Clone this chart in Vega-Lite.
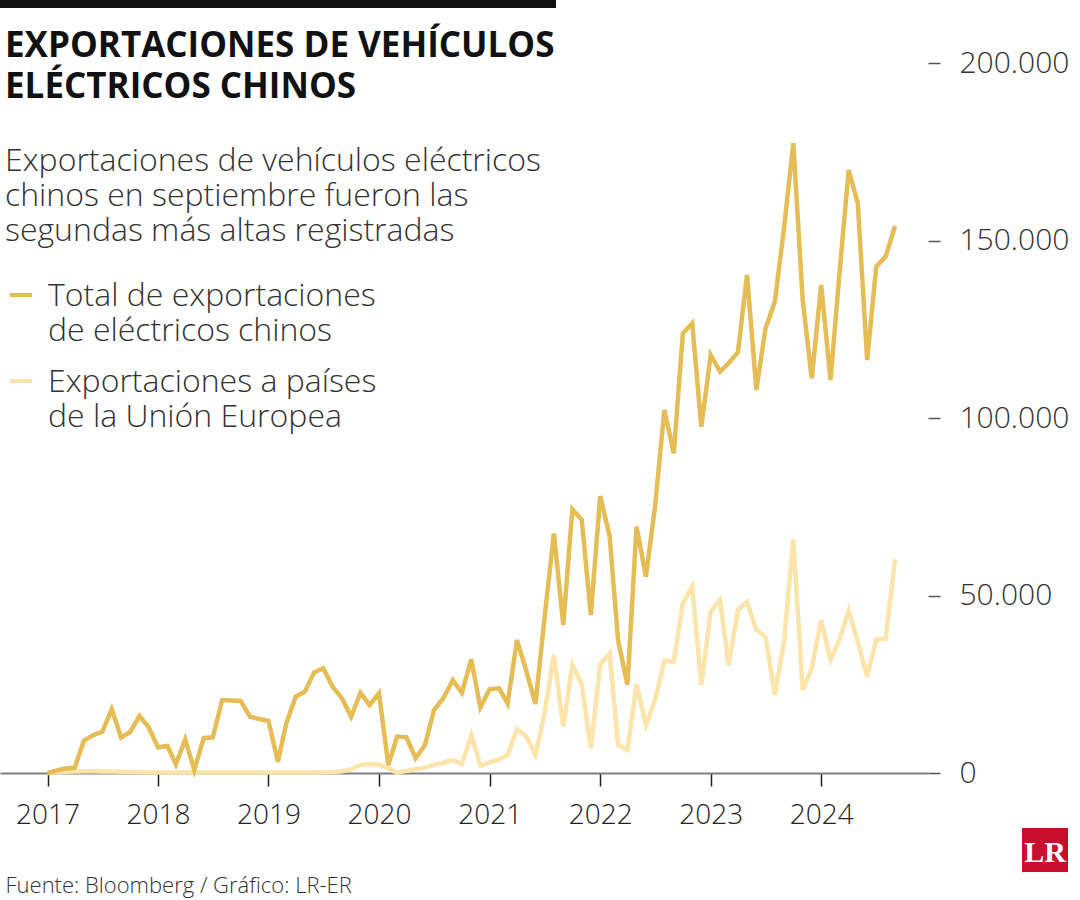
{
  "$schema": "https://vega.github.io/schema/vega-lite/v6.json",
  "padding": {"left": 0, "top": 0, "right": 0, "bottom": 10},
  "autosize": {"type": "pad"},
  "background": "white",
  "bounds": "flush",
  "spacing": 55,
  "config": {
    "font": "Open Sans",
    "view": {"stroke": null},
    "concat": {"spacing": 0}
  },
  "vconcat": [
    {
      "width": 556,
      "height": 8,
      "data": {"values": []},
      "mark": "point",
      "view": {"fill": "#111111", "stroke": null}
    },
    {
      "width": 928,
      "height": 710,
      "title": {
        "text": ["EXPORTACIONES DE VEHÍCULOS", "ELÉCTRICOS CHINOS"],
        "subtitle": ["Exportaciones de vehículos eléctricos", "chinos en septiembre fueron las", "segundas más altas registradas"],
        "anchor": "start",
        "frame": "group",
        "orient": "top",
        "offset": -199,
        "dx": 5,
        "font": "Open Sans",
        "fontSize": 35,
        "fontWeight": "bold",
        "lineHeight": 41,
        "color": "#111111",
        "subtitleFont": "Open Sans",
        "subtitleFontSize": 32,
        "subtitleFontWeight": 300,
        "subtitleLineHeight": 35,
        "subtitleColor": "#333333",
        "subtitlePadding": 41
      },
      "data": {
        "values": [
          {"fecha": "2017-01-01", "total": 0, "ue": 0},
          {"fecha": "2017-02-01", "total": 700, "ue": 200},
          {"fecha": "2017-03-01", "total": 1300, "ue": 350},
          {"fecha": "2017-04-01", "total": 1500, "ue": 450},
          {"fecha": "2017-05-01", "total": 9100, "ue": 500},
          {"fecha": "2017-06-01", "total": 10700, "ue": 500},
          {"fecha": "2017-07-01", "total": 11600, "ue": 450},
          {"fecha": "2017-08-01", "total": 18000, "ue": 400},
          {"fecha": "2017-09-01", "total": 10050, "ue": 350},
          {"fecha": "2017-10-01", "total": 11550, "ue": 300},
          {"fecha": "2017-11-01", "total": 16050, "ue": 250},
          {"fecha": "2017-12-01", "total": 12900, "ue": 200},
          {"fecha": "2018-01-01", "total": 7250, "ue": 150},
          {"fecha": "2018-02-01", "total": 7600, "ue": 150},
          {"fecha": "2018-03-01", "total": 2450, "ue": 150},
          {"fecha": "2018-04-01", "total": 9500, "ue": 150},
          {"fecha": "2018-05-01", "total": 850, "ue": 150},
          {"fecha": "2018-06-01", "total": 9800, "ue": 150},
          {"fecha": "2018-07-01", "total": 10050, "ue": 150},
          {"fecha": "2018-08-01", "total": 20550, "ue": 150},
          {"fecha": "2018-09-01", "total": 20400, "ue": 150},
          {"fecha": "2018-10-01", "total": 20300, "ue": 150},
          {"fecha": "2018-11-01", "total": 15850, "ue": 150},
          {"fecha": "2018-12-01", "total": 15200, "ue": 150},
          {"fecha": "2019-01-01", "total": 14700, "ue": 150},
          {"fecha": "2019-02-01", "total": 3200, "ue": 150},
          {"fecha": "2019-03-01", "total": 14000, "ue": 150},
          {"fecha": "2019-04-01", "total": 21500, "ue": 150},
          {"fecha": "2019-05-01", "total": 22900, "ue": 150},
          {"fecha": "2019-06-01", "total": 28350, "ue": 150},
          {"fecha": "2019-07-01", "total": 29500, "ue": 200},
          {"fecha": "2019-08-01", "total": 24300, "ue": 300},
          {"fecha": "2019-09-01", "total": 21000, "ue": 500},
          {"fecha": "2019-10-01", "total": 15850, "ue": 1000},
          {"fecha": "2019-11-01", "total": 22600, "ue": 2300},
          {"fecha": "2019-12-01", "total": 19150, "ue": 2500},
          {"fecha": "2020-01-01", "total": 22450, "ue": 2400},
          {"fecha": "2020-02-01", "total": 2250, "ue": 1300},
          {"fecha": "2020-03-01", "total": 10250, "ue": 100},
          {"fecha": "2020-04-01", "total": 10050, "ue": 650},
          {"fecha": "2020-05-01", "total": 4150, "ue": 1050},
          {"fecha": "2020-06-01", "total": 7900, "ue": 1500},
          {"fecha": "2020-07-01", "total": 17750, "ue": 2250},
          {"fecha": "2020-08-01", "total": 21050, "ue": 2900},
          {"fecha": "2020-09-01", "total": 26200, "ue": 3650},
          {"fecha": "2020-10-01", "total": 22600, "ue": 2550},
          {"fecha": "2020-11-01", "total": 32000, "ue": 10700},
          {"fecha": "2020-12-01", "total": 18500, "ue": 2000},
          {"fecha": "2021-01-01", "total": 23600, "ue": 3000},
          {"fecha": "2021-02-01", "total": 23850, "ue": 3850},
          {"fecha": "2021-03-01", "total": 19600, "ue": 5050},
          {"fecha": "2021-04-01", "total": 37450, "ue": 12300},
          {"fecha": "2021-05-01", "total": 29000, "ue": 10400},
          {"fecha": "2021-06-01", "total": 19450, "ue": 5050},
          {"fecha": "2021-07-01", "total": 43600, "ue": 16800},
          {"fecha": "2021-08-01", "total": 67500, "ue": 33250},
          {"fecha": "2021-09-01", "total": 41700, "ue": 13050},
          {"fecha": "2021-10-01", "total": 74300, "ue": 30400},
          {"fecha": "2021-11-01", "total": 71300, "ue": 25050},
          {"fecha": "2021-12-01", "total": 44500, "ue": 6950},
          {"fecha": "2022-01-01", "total": 78000, "ue": 30500},
          {"fecha": "2022-02-01", "total": 66800, "ue": 33700},
          {"fecha": "2022-03-01", "total": 37450, "ue": 7900},
          {"fecha": "2022-04-01", "total": 24800, "ue": 6500},
          {"fecha": "2022-05-01", "total": 69400, "ue": 25000},
          {"fecha": "2022-06-01", "total": 55300, "ue": 13500},
          {"fecha": "2022-07-01", "total": 75000, "ue": 20550},
          {"fecha": "2022-08-01", "total": 102250, "ue": 31650},
          {"fecha": "2022-09-01", "total": 90050, "ue": 31350},
          {"fecha": "2022-10-01", "total": 123850, "ue": 47800},
          {"fecha": "2022-11-01", "total": 126700, "ue": 52500},
          {"fecha": "2022-12-01", "total": 97550, "ue": 24800},
          {"fecha": "2023-01-01", "total": 117750, "ue": 45450},
          {"fecha": "2023-02-01", "total": 113050, "ue": 48750},
          {"fecha": "2023-03-01", "total": 115400, "ue": 30400},
          {"fecha": "2023-04-01", "total": 118500, "ue": 45900},
          {"fecha": "2023-05-01", "total": 140300, "ue": 48250},
          {"fecha": "2023-06-01", "total": 107900, "ue": 40300},
          {"fecha": "2023-07-01", "total": 125250, "ue": 38400},
          {"fecha": "2023-08-01", "total": 132750, "ue": 22000},
          {"fecha": "2023-09-01", "total": 154000, "ue": 37450},
          {"fecha": "2023-10-01", "total": 177400, "ue": 65800},
          {"fecha": "2023-11-01", "total": 133200, "ue": 23400},
          {"fecha": "2023-12-01", "total": 111200, "ue": 29500},
          {"fecha": "2024-01-01", "total": 137450, "ue": 43100},
          {"fecha": "2024-02-01", "total": 110700, "ue": 31850},
          {"fecha": "2024-03-01", "total": 140300, "ue": 37450},
          {"fecha": "2024-04-01", "total": 169850, "ue": 45700},
          {"fecha": "2024-05-01", "total": 160450, "ue": 37000},
          {"fecha": "2024-06-01", "total": 116300, "ue": 27100},
          {"fecha": "2024-07-01", "total": 142600, "ue": 37650},
          {"fecha": "2024-08-01", "total": 145450, "ue": 37750},
          {"fecha": "2024-09-01", "total": 154100, "ue": 60200}
        ]
      },
      "transform": [{"fold": ["ue", "total"], "as": ["serie", "valor"]}],
      "mark": {"type": "line", "strokeWidth": 4.5, "strokeJoin": "miter", "clip": false},
      "encoding": {
        "x": {
          "field": "fecha",
          "type": "temporal",
          "scale": {
            "type": "utc",
            "domain": [
              {"year": 2016, "month": 7, "date": 28, "utc": true},
              {"year": 2024, "month": 12, "date": 19, "utc": true}
            ]
          },
          "axis": {
            "orient": "bottom",
            "format": "%Y",
            "tickCount": "year",
            "grid": false,
            "domainColor": "#808080",
            "domainWidth": 2,
            "tickColor": "#222222",
            "tickWidth": 1.5,
            "tickSize": 13,
            "labelFont": "Open Sans",
            "labelFontSize": 28,
            "labelFontWeight": 300,
            "labelColor": "#222222",
            "labelPadding": 15,
            "labelBaseline": "top",
            "labelFlush": false,
            "labelOverlap": false,
            "title": "Fuente: Bloomberg / Gráfico: LR-ER",
            "titleFont": "Open Sans",
            "titleFontSize": 22,
            "titleFontWeight": 300,
            "titleColor": "#333333",
            "titleAnchor": "start",
            "titleAlign": "left",
            "titleBaseline": "middle",
            "titleX": 5,
            "titleY": 112
          }
        },
        "y": {
          "field": "valor",
          "type": "quantitative",
          "scale": {"domain": [0, 200000], "nice": false},
          "axis": {
            "orient": "right",
            "values": [0, 50000, 100000, 150000, 200000],
            "labelExpr": "replace(format(datum.value, ','), ',', '.')",
            "domain": false,
            "grid": false,
            "tickSize": 12,
            "tickColor": "#555555",
            "tickWidth": 1.5,
            "labelPadding": 19,
            "labelFont": "Open Sans",
            "labelFontSize": 30,
            "labelFontWeight": 300,
            "labelColor": "#333333",
            "title": null
          }
        },
        "color": {
          "field": "serie",
          "type": "nominal",
          "scale": {"domain": ["total", "ue"], "range": ["#E6BD55", "#FCE4AA"]},
          "legend": {
            "orient": "none",
            "legendX": 5,
            "legendY": 279,
            "title": null,
            "padding": 0,
            "symbolType": "stroke",
            "symbolSize": 484,
            "symbolStrokeWidth": 4,
            "labelFont": "Open Sans",
            "labelFontSize": 32,
            "labelFontWeight": 300,
            "labelColor": "#333333",
            "labelOffset": 11,
            "labelLimit": 0,
            "rowPadding": 18,
            "labelBaseline": "alphabetic",
            "labelExpr": "datum.value == 'total' ? ['Total de exportaciones', 'de eléctricos chinos'] : ['Exportaciones a países', 'de la Unión Europea']",
            "encode": {
              "labels": {"update": {"lineHeight": {"value": 35}, "dy": {"value": 11}}}
            }
          }
        }
      }
    },
    {
      "bounds": "flush",
      "spacing": 0,
      "hconcat": [
        {"width": 1022, "height": 44, "data": {"values": []}, "mark": "point"},
        {
          "width": 46,
          "height": 44,
          "data": {"values": []},
          "mark": "point",
          "view": {"fill": "#C8102E", "stroke": null},
          "title": {
            "text": "LR",
            "font": "Liberation Serif",
            "fontWeight": "bold",
            "fontSize": 30,
            "color": "#FFFFFF",
            "anchor": "middle",
            "frame": "group",
            "orient": "top",
            "baseline": "alphabetic",
            "offset": -34,
            "dy": 30
          }
        }
      ]
    }
  ]
}
